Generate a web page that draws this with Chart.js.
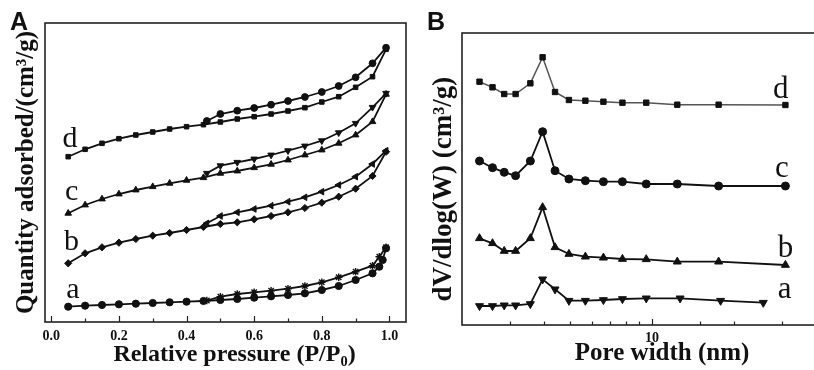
<!DOCTYPE html>
<html>
<head>
<meta charset="utf-8">
<script src="https://cdn.jsdelivr.net/npm/chart.js@4.4.1/dist/chart.umd.min.js"></script>
<style>
  html, body { margin: 0; padding: 0; background: #fff; overflow: hidden; width: 814px; height: 370px; }
  canvas { position: absolute; top: 0; }
  #isotherm { left: 0; }
  #pores { left: 412px; }
</style>
</head>
<body>
<canvas id="isotherm" width="412" height="370"></canvas>
<canvas id="pores" width="412" height="370"></canvas>
<script>
// ---- panel A: N2 isotherms (arbitrary stacked units) ----
const pAds = [0.05, 0.10, 0.15, 0.20, 0.25, 0.30, 0.35, 0.40, 0.45, 0.50, 0.55, 0.60, 0.65, 0.70, 0.75, 0.80, 0.85, 0.90, 0.95, 0.99];
const pDes = [0.99, 0.95, 0.90, 0.85, 0.80, 0.75, 0.70, 0.65, 0.60, 0.55, 0.50, 0.46];
const pAdsA = [0.05, 0.10, 0.15, 0.20, 0.25, 0.30, 0.35, 0.40, 0.45, 0.50, 0.55, 0.60, 0.65, 0.70, 0.75, 0.80, 0.85, 0.90, 0.95, 0.97, 0.98, 0.99];
const pDesA = [0.99, 0.97, 0.95, 0.90, 0.85, 0.80, 0.75, 0.70, 0.65, 0.60, 0.55, 0.50, 0.46];

const adsD = [166.3, 173.7, 179.7, 184.3, 188, 191, 194, 196.3, 198.3, 201, 204, 206.3, 209, 212, 215.3, 221, 226.3, 235.7, 246.3, 273.7];
const desD = [275.3, 259.7, 245.7, 237, 231, 226, 222, 218.3, 215, 212.3, 209, 202];
const adsC = [109.7, 118, 124, 129, 133, 136.3, 139.7, 142.7, 145.3, 149.7, 152, 155.3, 158.7, 163, 168, 173, 179.7, 188, 201.3, 228.7];
const desC = [229.7, 215.7, 199.7, 190.3, 182.3, 177, 172.3, 168, 164, 160.7, 157.3, 149.7];
const adsB = [59.7, 69.7, 75.7, 80.3, 84, 87.3, 90, 93, 96, 99, 100.7, 103.7, 107, 110.7, 115, 120.3, 126.3, 134.3, 147, 171.3];
const desB = [172.3, 159, 146.3, 138, 131.3, 125.7, 121.3, 117.3, 114, 110.7, 107, 99.7];
const adsA = [16.3, 17.3, 18, 18.7, 19.3, 20, 20.7, 21.3, 22, 23, 24, 25.3, 26.7, 28, 29.7, 33, 37, 43, 49.7, 56.3, 63, 74.7];
const desA = [75.7, 66.3, 57.3, 51.3, 45.7, 40.7, 37, 34.3, 32.3, 30.7, 29, 26.3, 22.5];

// ---- panel B: pore size distribution ----
const poreWidth = [2.32, 2.59, 2.86, 3.15, 3.57, 3.96, 4.40, 4.95, 5.69, 6.63, 7.79, 9.53, 12.4, 17.6, 31.0];
const poreWidthA = [2.32, 2.59, 2.86, 3.15, 3.57, 3.96, 4.40, 4.95, 5.69, 6.63, 7.79, 9.53, 12.7, 17.9, 25.7];
const psdD = [243.3, 237.7, 231, 231, 241.7, 267.7, 233, 225, 224.3, 223.3, 222.3, 222.3, 220.3, 220.3, 220];
const psdC = [164, 157.3, 152.7, 149.3, 164, 193.3, 154.3, 146, 144.3, 143.3, 143.3, 141, 141, 139, 139];
const psdB = [86.7, 81.7, 74, 74, 86.7, 117.7, 77.7, 71, 68.3, 67.3, 66, 65.7, 63.3, 63.3, 60];
const psdA = [19, 19, 19.7, 19.7, 21, 45.7, 35.7, 24.3, 24.3, 25, 26, 26.7, 26.7, 24.3, 22.3];

const seriesNames = ['a', 'b', 'c', 'd'];

const INK = '#111';
const pts = (xs, ys) => xs.map((x, i) => ({ x, y: ys[i] }));

function line(data, style, opts = {}) {
    return Object.assign({
        data,
        borderColor: INK,
        backgroundColor: INK,
        borderWidth: 1.8,
        pointStyle: style,
        pointRadius: 3.4,
        pointBorderWidth: 1,
        pointBorderColor: INK,
        pointBackgroundColor: INK,
        tension: 0
    }, opts);
}

// box, inward tick marks, curve letters and panel letter
function frame(panel, panelX, labels, isMajor, letterSize) {
    return {
        id: 'frame',
        afterDraw(chart) {
            const { ctx, chartArea: a, scales: { x, y } } = chart;
            ctx.save();
            ctx.strokeStyle = '#222';
            ctx.lineWidth = 1.6;
            ctx.strokeRect(a.left, a.top, a.right - a.left, a.bottom - a.top);
            ctx.lineWidth = 1.2;
            x.ticks.forEach(t => {
                const px = Math.round(x.getPixelForValue(t.value)) + 0.5;
                if (px < a.left + 2 || px > a.right - 2) return;
                const len = isMajor(t.value) ? 6 : 3.5;
                ctx.beginPath();
                ctx.moveTo(px, a.bottom);
                ctx.lineTo(px, a.bottom - len);
                ctx.stroke();
            });
            ctx.fillStyle = INK;
            ctx.font = letterSize + 'px "Liberation Serif"';
            ctx.textAlign = 'center';
            ctx.textBaseline = 'alphabetic';
            labels.forEach((l, i) => {
                ctx.fillText(seriesNames[i], x.getPixelForValue(l[0]), y.getPixelForValue(l[1]));
            });
            ctx.font = 'bold 25px "Liberation Sans"';
            ctx.textAlign = 'left';
            ctx.textBaseline = 'top';
            ctx.fillText(panel, panelX, 11);
            ctx.restore();
        }
    };
}

const titleFont = (size) => ({ family: '"Liberation Serif", serif', size, weight: 'bold', lineHeight: 1.2 });

// ---- chart A ----
new Chart(document.getElementById('isotherm'), {
    type: 'line',
    data: {
        datasets: [
            line(pts(pAds, adsD), 'rect', { pointRadius: 3.2 }),
            line(pts(pDes, desD), 'circle'),
            line(pts(pAds, adsC), 'triangle', { pointRadius: 3.8 }),
            line(pts(pDes, desC), 'triangle', { pointRadius: 3.8, pointRotation: 180 }),
            line(pts(pAds, adsB), 'rectRot', { pointRadius: 3.6 }),
            line(pts(pDes, desB), 'triangle', { pointRadius: 3.8, pointRotation: -90 }),
            line(pts(pAdsA, adsA), 'circle', { pointRadius: 3.6 }),
            line(pts(pDesA, desA), 'star', { pointRadius: 3.8, pointBorderWidth: 1.4 })
        ]
    },
    options: {
        responsive: false,
        animation: false,
        devicePixelRatio: 1,
        layout: { padding: { left: 0, top: 23, right: 6, bottom: 0 } },
        plugins: { legend: { display: false }, tooltip: { enabled: false } },
        scales: {
            x: {
                type: 'linear',
                min: -0.0186,
                max: 1.049,
                grid: { display: false, drawTicks: false },
                border: { display: false },
                ticks: {
                    stepSize: 0.1,
                    includeBounds: false,
                    autoSkip: false,
                    maxRotation: 0,
                    padding: 6,
                    color: INK,
                    font: { family: '"Liberation Serif", serif', size: 14, weight: 'bold' },
                    callback: v => (Math.round(v * 10) % 2 === 0 ? v.toFixed(1) : '')
                },
                title: {
                    display: true,
                    text: '   Relative pressure (P/P₀)',
                    color: INK,
                    font: titleFont(24),
                    padding: { top: 0, bottom: 0.6 }
                },
                afterFit: s => { s.height = 48; }
            },
            y: {
                min: 1,
                max: 300,
                grid: { display: false, drawTicks: false },
                border: { display: false },
                ticks: { display: false },
                title: {
                    display: true,
                    text: 'Quantity adsorbed/(cm³/g)',
                    color: INK,
                    font: titleFont(25),
                    padding: { top: 11.5, bottom: 0 }
                },
                afterFit: s => { s.width = 45; }
            }
        }
    },
    plugins: [frame('A', 10, [[0.064, 25], [0.06, 73], [0.06, 123], [0.055, 176]],
        v => Math.round(v * 10) % 2 === 0, 30)]
});

// ---- chart B ----
new Chart(document.getElementById('pores'), {
    type: 'line',
    data: {
        datasets: [
            line(pts(poreWidth, psdD), 'rect', { pointRadius: 3.8, borderColor: '#555', borderWidth: 1.5 }),
            line(pts(poreWidth, psdC), 'circle', { pointRadius: 4 }),
            line(pts(poreWidth, psdB), 'triangle', { pointRadius: 4.6 }),
            line(pts(poreWidthA, psdA), 'triangle', { pointRadius: 4.6, pointRotation: 180 })
        ]
    },
    options: {
        responsive: false,
        animation: false,
        devicePixelRatio: 1,
        layout: { padding: { left: 0, top: 33, right: 0, bottom: 0 } },
        plugins: { legend: { display: false }, tooltip: { enabled: false } },
        scales: {
            x: {
                type: 'logarithmic',
                min: 2,
                max: 41,
                grid: { display: false, drawTicks: false },
                border: { display: false },
                ticks: {
                    autoSkip: false,
                    maxRotation: 0,
                    padding: 4.6,
                    color: INK,
                    font: { family: '"Liberation Serif", serif', size: 14, weight: 'bold' },
                    callback: v => (v === 10 ? '10' : '')
                },
                title: {
                    display: true,
                    text: '       Pore width (nm)',
                    color: INK,
                    font: titleFont(25),
                    padding: { top: 0, bottom: 1.6 }
                },
                afterFit: s => { s.height = 45; }
            },
            y: {
                min: 0,
                max: 292,
                grid: { display: false, drawTicks: false },
                border: { display: false },
                ticks: { display: false },
                title: {
                    display: true,
                    text: 'dV/dlog(W) (cm³/g)   ',
                    color: INK,
                    font: titleFont(27),
                    padding: { top: 16, bottom: 0 }
                },
                afterFit: s => { s.width = 50; }
            }
        }
    },
    plugins: [frame('B', 15, [[30.8, 27.3], [31, 68.3], [30.1, 148.3], [29.8, 226.7]],
        v => v === 10, 31)]
});
</script>
</body>
</html>
